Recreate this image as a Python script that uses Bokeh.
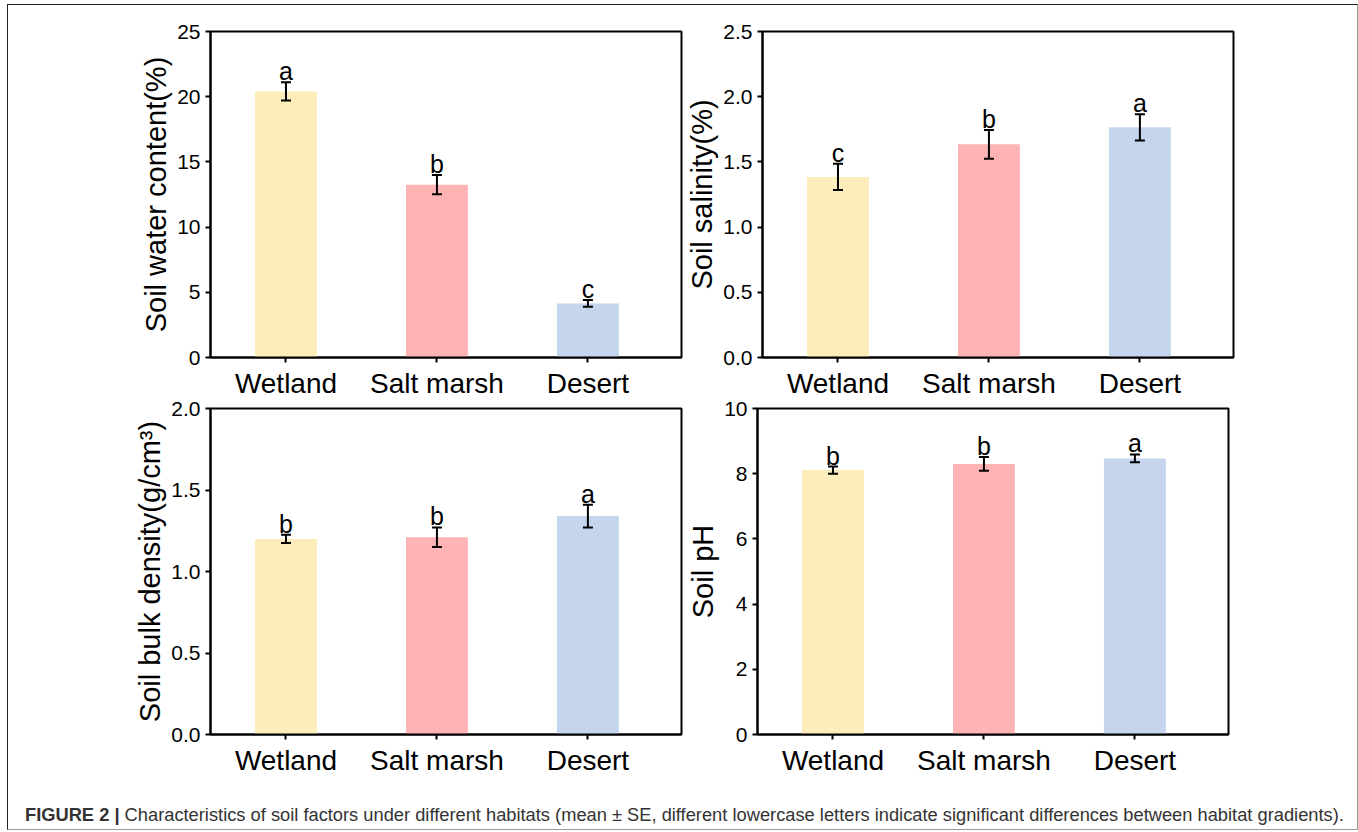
from bokeh.plotting import figure
from bokeh.models import ColumnDataSource, Whisker, TeeHead, Range1d, FixedTicker, Div
from bokeh.layouts import row, column
from bokeh.embed import file_html
from bokeh.resources import INLINE
from bokeh.core.properties import value

# ---------------- data ----------------
habitats = ["Wetland", "Salt marsh", "Desert"]
bar_colors = ["#FDEDBA", "#FEB3B4", "#C5D5EE"]

swc_mean = [20.4, 13.25, 4.15]
swc_se = [0.7, 0.74, 0.25]
swc_letters = ["a", "b", "c"]
swc_ticks = [0, 5, 10, 15, 20, 25]

sal_mean = [1.385, 1.635, 1.765]
sal_se = [0.1, 0.11, 0.1]
sal_letters = ["c", "b", "a"]
sal_ticks = [0.0, 0.5, 1.0, 1.5, 2.0, 2.5]

bd_mean = [1.2, 1.21, 1.34]
bd_se = [0.025, 0.06, 0.07]
bd_letters = ["b", "b", "a"]
bd_ticks = [0.0, 0.5, 1.0, 1.5, 2.0]

ph_mean = [8.11, 8.3, 8.47]
ph_se = [0.11, 0.21, 0.12]
ph_letters = ["b", "b", "a"]
ph_ticks = [0, 2, 4, 6, 8, 10]

caption_bold = "FIGURE 2 |"
caption_text = ("Characteristics of soil factors under different habitats (mean \u00b1 SE, "
                "different lowercase letters indicate significant differences between habitat gradients).")

FONT = "Liberation Sans"


def panel(mean, se, letters, ticks, ylabel, fmt, left, right, top, bottom):
    xpos = list(range(1, len(habitats) + 1))
    src = ColumnDataSource(dict(
        x=xpos, top=mean,
        upper=[m + s for m, s in zip(mean, se)],
        lower=[m - s for m, s in zip(mean, se)],
        letter=letters, color=bar_colors,
    ))
    p = figure(frame_width=471, frame_height=326,
               x_range=Range1d(0.5, 3.62), y_range=Range1d(ticks[0], ticks[-1]),
               output_backend="svg", toolbar_location=None,
               min_border_left=left, min_border_right=right,
               min_border_top=top, min_border_bottom=bottom)
    p.vbar(x="x", top="top", width=0.41, bottom=0, fill_color="color",
           line_color=None, source=src)
    w = Whisker(base="x", upper="upper", lower="lower", source=src,
                line_color="black", line_width=2, level="overlay",
                upper_head=TeeHead(size=10, line_width=2, line_color="black"),
                lower_head=TeeHead(size=10, line_width=2, line_color="black"))
    p.add_layout(w)
    p.text(x="x", y="upper", text="letter", source=src, text_align="center",
           text_baseline="alphabetic", y_offset=-11,
           text_font=value(FONT), text_font_size="25px", text_color="black")

    p.xgrid.visible = False
    p.ygrid.visible = False
    p.outline_line_color = "black"
    p.outline_line_width = 2
    p.outline_line_alpha = 1
    p.background_fill_color = "white"
    p.border_fill_color = None

    xa = p.xaxis[0]
    xa.ticker = FixedTicker(ticks=xpos)
    xa.major_label_overrides = {i: h for i, h in zip(xpos, habitats)}
    xa.major_label_text_font = FONT
    xa.major_label_text_font_size = "28px"
    xa.major_label_text_color = "black"
    xa.major_label_standoff = 5

    ya = p.yaxis[0]
    ya.ticker = FixedTicker(ticks=ticks)
    ya.major_label_overrides = {t: fmt.format(t) for t in ticks}
    ya.major_label_text_font = FONT
    ya.major_label_text_font_size = "21px"
    ya.major_label_text_color = "black"
    ya.major_label_standoff = 5
    ya.axis_label = ylabel
    ya.axis_label_text_font = FONT
    ya.axis_label_text_font_size = "29px"
    ya.axis_label_text_font_style = "normal"
    ya.axis_label_text_color = "black"
    ya.axis_label_standoff = 2

    for ax in (xa, ya):
        ax.axis_line_width = 2
        ax.axis_line_color = "black"
        ax.major_tick_line_width = 2
        ax.major_tick_line_color = "black"
        ax.major_tick_out = 5
        ax.major_tick_in = 0
        ax.minor_tick_line_color = None
    return p


p1 = panel(swc_mean, swc_se, swc_letters, swc_ticks, "Soil water content(%)", "{:g}",
           202, 2, 26, 40)
p2 = panel(sal_mean, sal_se, sal_letters, sal_ticks, "Soil salinity(%)", "{:.1f}",
           74, 124, 26, 40)
p3 = panel(bd_mean, bd_se, bd_letters, bd_ticks, "Soil bulk density(g/cm\u00b3)", "{:.1f}",
           202, 2, 19, 60)
p4 = panel(ph_mean, ph_se, ph_letters, ph_ticks, "Soil pH", "{:g}",
           74, 124, 19, 60)

cap = Div(text=f"<b>{caption_bold}</b> {caption_text}", width=1325, height=27,
          margin=(8, 0, 0, 17),
          styles={"font-family": "'Liberation Sans Narrow', 'Liberation Sans', sans-serif",
                  "font-size": "18.3px", "color": "#333333", "white-space": "nowrap"})

layout = column(row(p1, p2),
                row(p3, p4, margin=(-12, 0, 0, 0)),
                cap,
                margin=(4, 0, 0, 7),
                styles={"border-style": "solid", "border-width": "1px",
                        "border-color": "#222222 #999999 #999999 #222222",
                        "background-color": "white"})

open("out.html", "w").write(file_html(layout, INLINE))
